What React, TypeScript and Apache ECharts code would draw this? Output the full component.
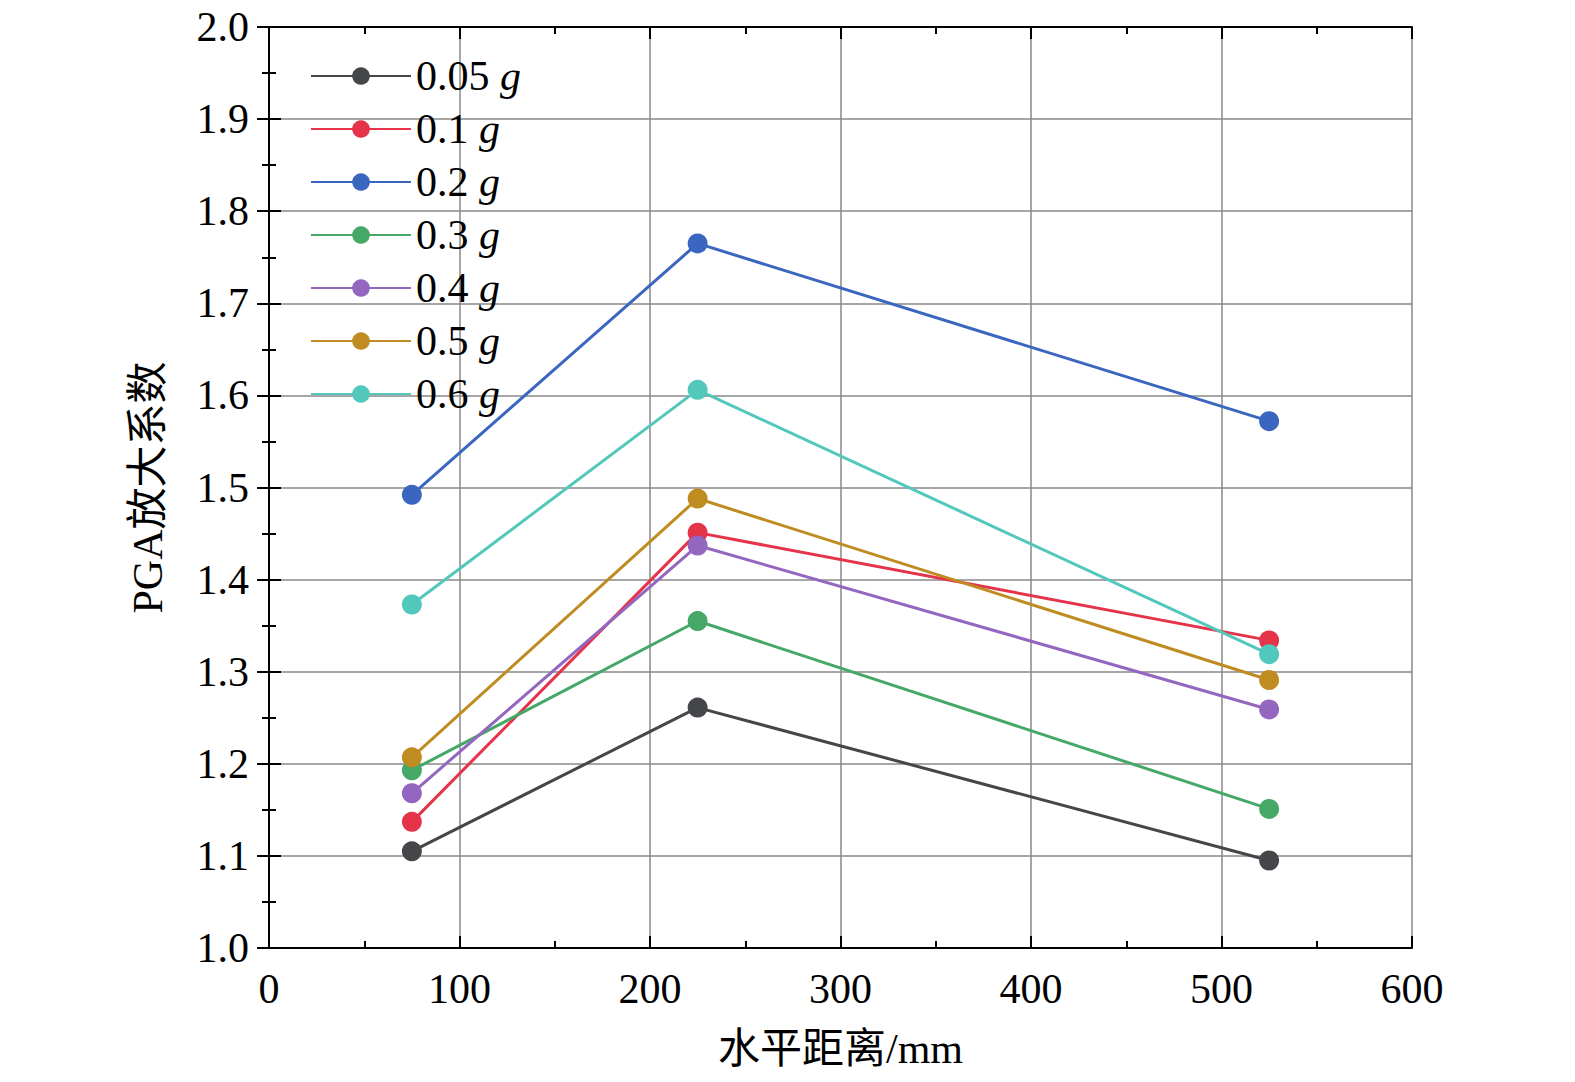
import React, { useEffect, useRef } from 'react';
import * as echarts from 'echarts';

const xValues = [75, 225, 525];
const seriesNames = ['0.05', '0.1', '0.2', '0.3', '0.4', '0.5', '0.6'];
const seriesColors = ['#45464a', '#e5334a', '#3b66bf', '#45a866', '#9366bf', '#bf8c22', '#52c7bb'];
const seriesValues = [
  [1.105, 1.261, 1.095],
  [1.137, 1.451, 1.334],
  [1.492, 1.765, 1.572],
  [1.193, 1.355, 1.151],
  [1.168, 1.437, 1.259],
  [1.207, 1.488, 1.291],
  [1.373, 1.606, 1.319],
];

const FONT = '"Liberation Serif", "Noto Sans CJK SC", serif';

const App: React.FC = () => {
  const chartRef = useRef<HTMLDivElement | null>(null);

  useEffect(() => {
    document.body.style.margin = '0';
    if (!chartRef.current) return;
    const chart = echarts.init(chartRef.current, undefined, { renderer: 'svg' });
    const axisLine = { show: true, lineStyle: { color: '#000', width: 2 } };
    const tick = { show: true, inside: true, length: 12, lineStyle: { color: '#000', width: 2 } };
    const minor = { show: true, splitNumber: 2, length: 7, lineStyle: { color: '#000', width: 2 } };
    const split = { show: true, lineStyle: { color: '#888', width: 1.5 } };
    const label = { fontFamily: FONT, fontSize: 42, color: '#000' };

    chart.setOption({
      animation: false,
      textStyle: { fontFamily: FONT },
      grid: { left: 269, right: 163, top: 27, bottom: 134 },
      legend: {
        orient: 'vertical',
        left: 305,
        top: 50,
        itemWidth: 100,
        itemHeight: 22,
        itemGap: 11,
        data: seriesNames.map((n) => n),
        formatter: (name: string) => `{a|${name} }{b|g}`,
        textStyle: {
          color: '#000',
          fontSize: 42,
          rich: {
            a: { fontFamily: FONT, fontSize: 42, color: '#000' },
            b: { fontFamily: FONT, fontSize: 42, color: '#000', fontStyle: 'italic' },
          },
        },
      },
      xAxis: [
        {
          type: 'value', min: 0, max: 600, interval: 100,
          name: '水平距离/mm', nameLocation: 'middle', nameGap: 80,
          nameTextStyle: { ...label },
          axisLine, axisTick: tick, minorTick: minor, splitLine: split,
          axisLabel: { ...label, margin: 20 },
        },
        {
          type: 'value', min: 0, max: 600, interval: 100, position: 'top',
          axisLine, axisTick: tick, minorTick: minor, axisLabel: { show: false }, splitLine: { show: false },
        },
      ],
      yAxis: [
        {
          type: 'value', min: 1.0, max: 2.0, interval: 0.1,
          name: 'PGA放大系数', nameLocation: 'middle', nameGap: 100,
          nameTextStyle: { ...label },
          axisLine, axisTick: tick, minorTick: minor, splitLine: split,
          axisLabel: { ...label, margin: 20, formatter: (v: number) => v.toFixed(1) },
        },
        {
          type: 'value', min: 1.0, max: 2.0, interval: 0.1, position: 'right',
          axisLine, axisTick: tick, minorTick: minor, axisLabel: { show: false }, splitLine: { show: false },
        },
      ],
      series: seriesNames.map((name, i) => ({
        name,
        type: 'line',
        symbol: 'circle',
        symbolSize: 20,
        color: seriesColors[i],
        lineStyle: { width: 3, color: seriesColors[i] },
        data: xValues.map((x, j) => [x, seriesValues[i][j]]),
      })),
    });
    return () => chart.dispose();
  }, []);

  return <div ref={chartRef} style={{ width: 1575, height: 1082 }} />;
};

export default App;
